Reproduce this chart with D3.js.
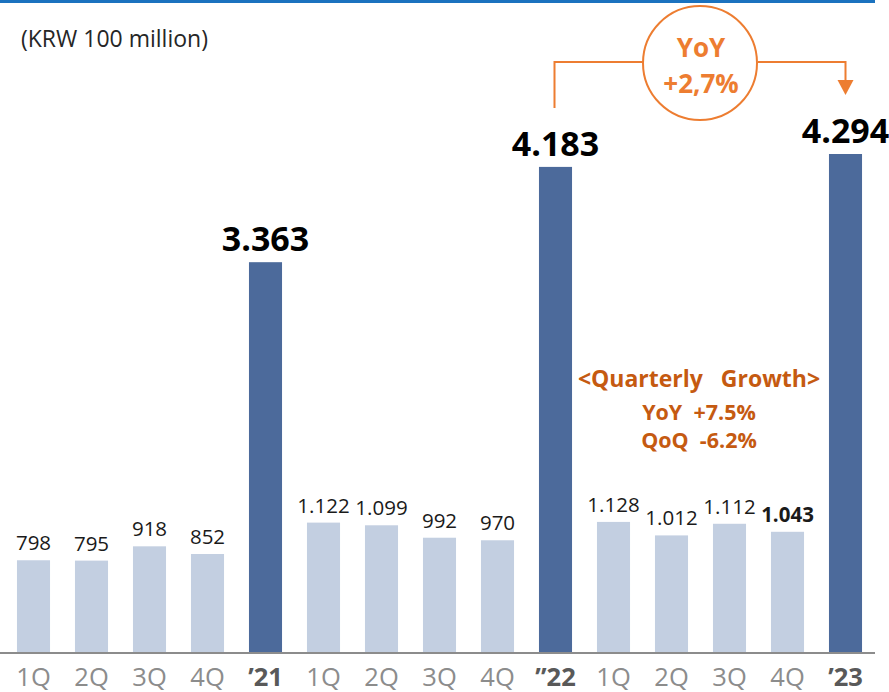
<!DOCTYPE html>
<html>
<head>
<meta charset="utf-8">
<script src="https://cdn.jsdelivr.net/npm/d3@7"></script>
<style>
  body { margin: 0; background: #fff; }
  svg { display: block; font-family: "Open Sans", "Noto Sans", sans-serif; }
</style>
</head>
<body>
<div id="main"></div>
<script>
// values
const categories = ['1Q', '2Q', '3Q', '4Q', '\u201921', '1Q', '2Q', '3Q', '4Q', '\u201D22', '1Q', '2Q', '3Q', '4Q', '\u201923'];
const values = [798, 795, 918, 852, 3363, 1122, 1099, 992, 970, 4183, 1128, 1012, 1112, 1043, 4294];
const isYear = [false, false, false, false, true, false, false, false, false, true, false, false, false, false, true];
const boldLabel = [false, false, false, false, true, false, false, false, false, true, false, false, false, true, true];
const unitLabel = '(KRW 100 million)';
const yoyText = ['YoY', '+2,7%'];
const growthText = ['<Quarterly   Growth>', 'YoY  +7.5%', 'QoQ  -6.2%'];

const width = 889, height = 692;
const base = 653;

const svg = d3.select('#main').append('svg')
	.attr('width', width)
	.attr('height', height);

// top rule
svg.append('rect')
	.attr('x', 0).attr('y', 0)
	.attr('width', 875).attr('height', 3)
	.attr('fill', '#1b72bf');

svg.append('text')
	.attr('x', 21).attr('y', 47)
	.attr('font-size', 23)
	.attr('fill', '#262626')
	.text(unitLabel);

const x = d3.scaleBand()
	.domain(d3.range(values.length))
	.range([4.5, 874.5])
	.paddingInner(0.43)
	.paddingOuter(0.215);

const y = d3.scaleLinear()
	.domain([0, 4294])
	.range([base, 154]);

svg.selectAll('rect.bar')
	.data(values)
	.enter()
	.append('rect')
	.attr('class', 'bar')
	.attr('x', (d, i) => x(i))
	.attr('y', d => y(d))
	.attr('width', x.bandwidth())
	.attr('height', d => base - y(d))
	.attr('fill', (d, i) => isYear[i] ? '#4c6a9b' : '#c3cfe1');

const fmt = v => v >= 1000 ? Math.floor(v / 1000) + '.' + String(v % 1000).padStart(3, '0') : String(v);

svg.selectAll('text.val')
	.data(values)
	.enter()
	.append('text')
	.attr('class', 'val')
	.attr('x', (d, i) => x(i) + x.bandwidth() / 2)
	.attr('y', (d, i) => y(d) - (isYear[i] ? 11 : 10))
	.attr('text-anchor', 'middle')
	.attr('font-size', (d, i) => isYear[i] ? 34 : 20.5)
	.attr('font-weight', (d, i) => boldLabel[i] ? 'bold' : 'normal')
	.attr('fill', (d, i) => isYear[i] ? '#000' : '#1a1a1a')
	.text(d => fmt(d));

// x axis
const axis = svg.append('g')
	.attr('transform', 'translate(0,' + base + ')')
	.call(d3.axisBottom(x).tickSize(0).tickPadding(15).tickFormat(i => categories[i]));
axis.select('.domain').remove();
axis.append('line')
	.attr('x1', 0).attr('x2', 875)
	.attr('stroke', '#8c8c8c').attr('stroke-width', 2);
axis.selectAll('.tick text')
	.attr('font-size', 25.5)
	.attr('font-family', '"Open Sans", sans-serif')
	.attr('font-weight', i => isYear[i] ? 'bold' : 'normal')
	.attr('fill', i => isYear[i] ? '#595959' : '#8c8c8c');

// YoY annotation
const orange = '#ed7d31';
const cx = x(9) + x.bandwidth() / 2, ex = x(14) + x.bandwidth() / 2;
const ann = svg.append('g');
ann.append('path')
	.attr('d', 'M' + (cx - 1) + ',108 V62 H643 M758,62 H' + ex + ' V82')
	.attr('fill', 'none').attr('stroke', orange).attr('stroke-width', 2);
ann.append('path')
	.attr('d', 'M' + (ex - 8) + ',80 L' + (ex + 8) + ',80 L' + ex + ',95 Z')
	.attr('fill', orange);
ann.append('circle')
	.attr('cx', 700).attr('cy', 63).attr('r', 57)
	.attr('fill', '#fff').attr('stroke', orange).attr('stroke-width', 2);
ann.selectAll('text')
	.data(yoyText)
	.enter()
	.append('text')
	.attr('x', 701)
	.attr('y', (d, i) => 57 + i * 36)
	.attr('text-anchor', 'middle')
	.attr('font-size', 26)
	.attr('font-weight', 'bold')
	.attr('fill', orange)
	.text(d => d);

// quarterly growth note
svg.selectAll('text.growth')
	.data(growthText)
	.enter()
	.append('text')
	.attr('class', 'growth')
	.attr('x', 699)
	.attr('y', (d, i) => [387, 420, 448][i])
	.attr('text-anchor', 'middle')
	.attr('font-size', (d, i) => i === 0 ? 23 : 21.5)
	.attr('font-weight', 'bold')
	.attr('fill', '#c55a11')
	.attr('xml:space', 'preserve')
	.style('white-space', 'pre')
	.text(d => d);
</script>
</body>
</html>
